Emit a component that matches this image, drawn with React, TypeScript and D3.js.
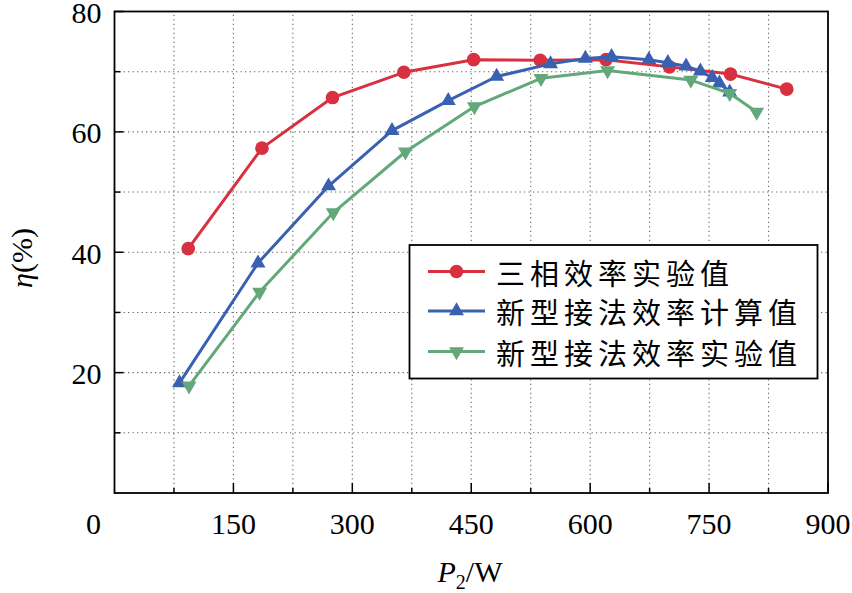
import React from "react";
import * as d3 from "d3";

// P2 (W) and efficiency (%)
const p2ThreePhase = [93, 186, 275, 365, 453, 537, 620, 700, 777, 848];
const etaThreePhase = [40.6, 57.3, 65.7, 69.9, 72.0, 71.9, 72.0, 70.8, 69.6, 67.1];

const p2NewCalc = [82, 181, 270, 350, 421, 482, 550, 594, 627, 674, 698, 721, 739, 754, 763, 776];
const etaNewCalc = [18.3, 38.2, 51.0, 60.2, 65.2, 69.2, 71.3, 72.2, 72.5, 72.0, 71.5, 70.9, 70.1, 69.0, 68.1, 66.6];

const p2NewExp = [94, 183, 276, 367, 454, 538, 622, 727, 776, 810];
const etaNewExp = [17.8, 33.4, 46.6, 56.7, 64.2, 68.9, 70.2, 68.6, 66.4, 63.3];

const seriesNames = ["三相效率实验值", "新型接法效率计算值", "新型接法效率实验值"];

const xTickLabels = [150, 300, 450, 600, 750, 900];
const xMinorTicks = [75, 225, 375, 525, 675, 825];
const yTickLabels = [20, 40, 60, 80];
const yMinorTicks = [10, 30, 50, 70];

const RED = "#d8303f";
const BLUE = "#3a60b2";
const GREEN = "#62a87b";

const W = 852;
const H = 593;
const serif = "'Liberation Serif', 'Times New Roman', serif";
const cjk = "'Noto Sans CJK SC', sans-serif";

const x = d3.scaleLinear().domain([0, 900]).range([114.5, 828]);
const y = d3.scaleLinear().domain([0, 80]).range([493, 11.5]);

const triUp = (s: number) => {
  const h = (s * Math.sqrt(3)) / 2;
  return `M0,${(-2 * h) / 3}L${s / 2},${h / 3}L${-s / 2},${h / 3}Z`;
};
const triDown = (s: number) => {
  const h = (s * Math.sqrt(3)) / 2;
  return `M0,${(2 * h) / 3}L${s / 2},${-h / 3}L${-s / 2},${-h / 3}Z`;
};

type Marker = "circle" | "up" | "down";

const drawMarker = (kind: Marker, cx: number, cy: number, color: string, key: any) => {
  if (kind === "circle") return <circle key={key} cx={cx} cy={cy} r={6.8} fill={color} />;
  return (
    <path
      key={key}
      d={kind === "up" ? triUp(15) : triDown(15)}
      transform={`translate(${cx},${cy})`}
      fill={color}
    />
  );
};

const series = [
  { name: seriesNames[0], xs: p2ThreePhase, ys: etaThreePhase, color: RED, marker: "circle" as Marker },
  { name: seriesNames[1], xs: p2NewCalc, ys: etaNewCalc, color: BLUE, marker: "up" as Marker },
  { name: seriesNames[2], xs: p2NewExp, ys: etaNewExp, color: GREEN, marker: "down" as Marker },
];

export default function App() {
  const line = d3
    .line<[number, number]>()
    .x((d) => x(d[0]))
    .y((d) => y(d[1]));

  const [x0, x1] = x.range();
  const [y0, y1] = y.range();

  const legend = { left: 409.5, top: 245, right: 817.5, bottom: 378.5 };
  const legendRows = [271.5, 311, 351.5];

  return (
    <svg
      width={W}
      height={H}
      style={{ position: "absolute", left: 0, top: 0, background: "#fff" }}
    >
      {/* grid */}
      <g stroke="#666" strokeWidth={1.1} strokeDasharray="1.3,3.2">
        {[...xMinorTicks, ...xTickLabels.filter((v) => v < 900)].map((v) => (
          <line key={"gx" + v} x1={x(v)} x2={x(v)} y1={y0} y2={y1} />
        ))}
        {[...yMinorTicks, ...yTickLabels.filter((v) => v < 80)].map((v) => (
          <line key={"gy" + v} x1={x0} x2={x1} y1={y(v)} y2={y(v)} />
        ))}
      </g>

      {/* ticks (inward) */}
      <g stroke="#000" strokeWidth={1.5}>
        {xTickLabels.map((v) => (
          <line key={"tx" + v} x1={x(v)} x2={x(v)} y1={y0} y2={y0 - 10} />
        ))}
        {xMinorTicks.map((v) => (
          <line key={"mx" + v} x1={x(v)} x2={x(v)} y1={y0} y2={y0 - 5} />
        ))}
        {yTickLabels.map((v) => (
          <line key={"ty" + v} x1={x0} x2={x0 + 9} y1={y(v)} y2={y(v)} />
        ))}
        {yMinorTicks.map((v) => (
          <line key={"my" + v} x1={x0} x2={x0 + 6} y1={y(v)} y2={y(v)} />
        ))}
      </g>

      {/* series */}
      {series.map((s) => (
        <g key={s.name}>
          <path
            d={line(s.xs.map((v, i) => [v, s.ys[i]] as [number, number])) || ""}
            fill="none"
            stroke={s.color}
            strokeWidth={3}
            strokeLinejoin="round"
          />
          {s.xs.map((v, i) => drawMarker(s.marker, x(v), y(s.ys[i]), s.color, i))}
        </g>
      ))}

      {/* frame */}
      <rect x={x0} y={y1} width={x1 - x0} height={y0 - y1} fill="none" stroke="#000" strokeWidth={1.8} />

      {/* tick labels */}
      <g fontFamily={serif} fontSize={30} fill="#000">
        {xTickLabels.map((v) => (
          <text key={"lx" + v} x={x(v)} y={523} textAnchor="middle" dominantBaseline="central">
            {v}
          </text>
        ))}
        <text x={x(0) - 21} y={523} textAnchor="middle" dominantBaseline="central">
          0
        </text>
        {yTickLabels.map((v) => (
          <text key={"ly" + v} x={x0 - 13} y={y(v) + 1} textAnchor="end" dominantBaseline="central">
            {v}
          </text>
        ))}
      </g>

      {/* axis titles */}
      <text x={470} y={582} textAnchor="middle" fontFamily={serif} fontSize={30}>
        <tspan fontStyle="italic">P</tspan>
        <tspan fontSize={20} dy={7}>2</tspan>
        <tspan dy={-7}>/W</tspan>
      </text>
      <text
        transform={`translate(32,258) rotate(-90)`}
        textAnchor="middle"
        fontFamily={serif}
        fontSize={30}
      >
        <tspan fontStyle="italic">η</tspan>
        <tspan>(%)</tspan>
      </text>

      {/* legend */}
      <rect
        x={legend.left}
        y={legend.top}
        width={legend.right - legend.left}
        height={legend.bottom - legend.top}
        fill="#fff"
        stroke="#000"
        strokeWidth={1.8}
      />
      {series.map((s, i) => (
        <g key={"leg" + i}>
          <line x1={428} x2={485} y1={legendRows[i]} y2={legendRows[i]} stroke={s.color} strokeWidth={3} />
          {drawMarker(s.marker, 456.5, legendRows[i], s.color, "m")}
          <text
            x={496}
            y={legendRows[i]}
            dominantBaseline="central"
            fontFamily={cjk}
            fontSize={29}
            letterSpacing={5}
            fill="#000"
          >
            {s.name}
          </text>
        </g>
      ))}
    </svg>
  );
}
